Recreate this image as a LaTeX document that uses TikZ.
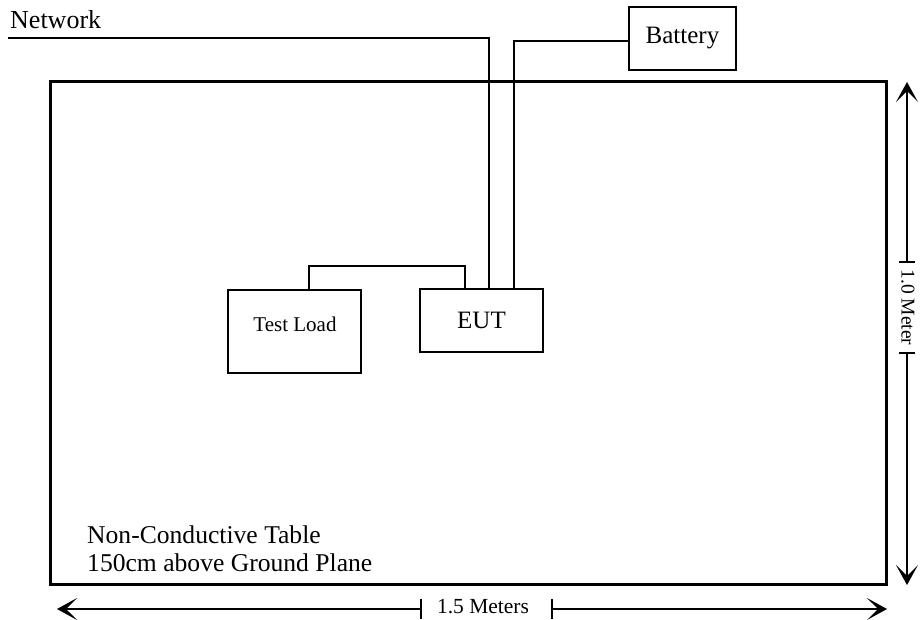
\documentclass[tikz,border=0pt]{standalone}
\usepackage{fontspec}
\setmainfont{Liberation Serif}
\usetikzlibrary{arrows.meta,calc}
\begin{document}
\begin{tikzpicture}[x=1pt,y=-1pt,
  box/.style={draw, line width=1.8pt, inner sep=0pt},
  wire/.style={line width=1.6pt},
  dimline/.style={line width=1.4pt},
  dimarrow/.style={line width=1.4pt, -{Stealth[length=20pt,width=22pt,inset=11pt]}},
  big/.style={font=\fontsize{25}{29}\selectfont},
  small/.style={font=\fontsize{21}{24}\selectfont},
  tiny/.style={font=\fontsize{21.5}{24}\selectfont}]
\useasboundingbox (0,0) rectangle (923,620);
% table
\node[draw, line width=3pt, minimum width=836pt, minimum height=502pt, inner sep=0pt] (table) at (468,333) {};
% boxes
\node[box, big, minimum width=107pt, minimum height=63pt] (bat) at (682.5,38.5) {Battery};
\node[box, big, minimum width=123pt, minimum height=63pt] (eut) at (481.5,320.5) {EUT};
\node[box, minimum width=133pt, minimum height=83pt] (load) at (294.5,331.5) {};
\node[small] (loadtxt) at (295,324) {Test Load};
% network
\node[anchor=base west, inner sep=0pt, font=\fontsize{26}{29}\selectfont] (net) at (10,29) {Network};
\coordinate (netstart) at (8,38);
\draw[wire] (netstart) -- (489,38) -- (489,0 |- eut.north);
\draw[wire] (bat.west |- 0,41) -- (514,41) -- (514,0 |- eut.north);
\draw[wire] (load.north -| 309,0) -- (309,266) -- (465,266) -- (465,0 |- eut.north);
% text on table
\node[anchor=west, align=left, inner sep=0pt, font=\fontsize{25.6}{28}\selectfont] (tabtxt) at (87,549) {Non-Conductive Table\\150cm above Ground Plane};
% horizontal dimension
\coordinate (hl) at (421,609);
\coordinate (hr) at (552,609);
\coordinate (hle) at (57,609);
\coordinate (hre) at (887,609);
\draw[dimarrow] (hl) -- (hle);
\draw[dimarrow] (hr) -- (hre);
\draw[dimline] ($(hl)+(0,-10)$) -- ($(hl)+(0,10)$);
\draw[dimline] ($(hr)+(0,-10)$) -- ($(hr)+(0,10)$);
\node[tiny] (hlab) at (483,607) {1.5 Meters};
% vertical dimension
\coordinate (vt) at (907,262);
\coordinate (vb) at (907,353);
\coordinate (vte) at (907,82);
\coordinate (vbe) at (907,585);
\draw[dimarrow] (vt) -- (vte);
\draw[dimarrow] (vb) -- (vbe);
\draw[dimline] ($(vt)+(-8,0)$) -- ($(vt)+(8,0)$);
\draw[dimline] ($(vb)+(-8,0)$) -- ($(vb)+(8,0)$);
\node[rotate=-90, font=\fontsize{19.5}{22}\selectfont] (vlab) at (908,307.5) {1.0 Meter};
\end{tikzpicture}
\end{document}
